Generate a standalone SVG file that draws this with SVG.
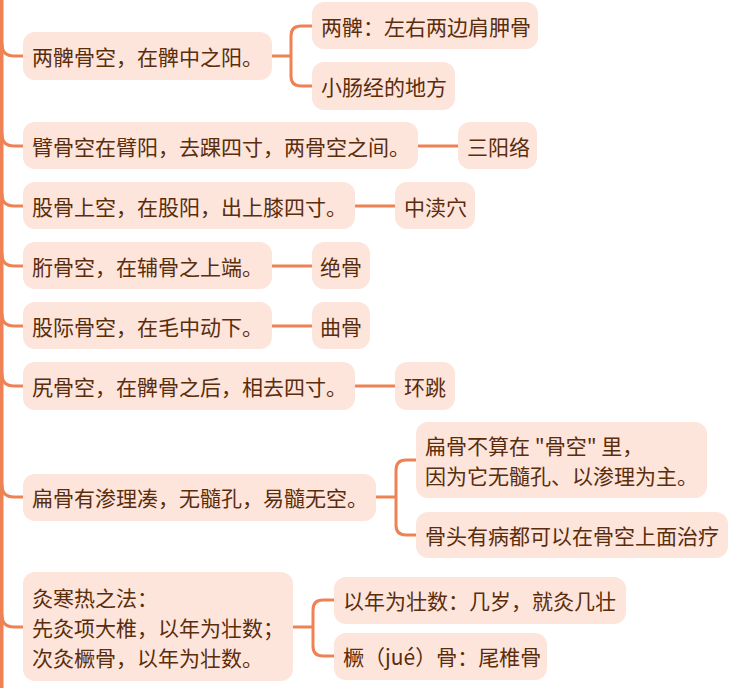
<svg xmlns="http://www.w3.org/2000/svg" width="746" height="688" viewBox="0 0 746 688">
<defs>
<style>
.n{fill:#fde5dc;}
.t{font-family:"Noto Sans CJK SC","Noto Sans",sans-serif;font-size:21px;fill:#5a2d0c;dominant-baseline:central;}
.c{fill:none;stroke:#ef8254;stroke-width:3;stroke-linecap:round;stroke-linejoin:round;}
</style>
</defs>
<rect x="0" y="0" width="746" height="688" fill="#ffffff"/>
<g id="connectors">
<rect x="0" y="0" width="3.5" height="688" fill="#ef8254"/>
<path class="c" d="M2,44 Q2,56 14,56 H23"/>
<path class="c" d="M2,134 Q2,146 14,146 H23"/>
<path class="c" d="M2,194 Q2,206 14,206 H23"/>
<path class="c" d="M2,254 Q2,266 14,266 H23"/>
<path class="c" d="M2,314 Q2,326 14,326 H23"/>
<path class="c" d="M2,374 Q2,386 14,386 H23"/>
<path class="c" d="M2,485 Q2,497 14,497 H23"/>
<path class="c" d="M2,615 Q2,627 14,627 H23"/>
<path class="c" d="M272,56 H291 M312,26 H301 Q291,26 291,36 V76 Q291,86 301,86 H312"/>
<path class="c" d="M418,146 H458"/>
<path class="c" d="M355,206 H395"/>
<path class="c" d="M272,266 H312"/>
<path class="c" d="M272,326 H312"/>
<path class="c" d="M355,386 H395"/>
<path class="c" d="M376,497 H396 M416,460 H406 Q396,460 396,470 V525 Q396,535 406,535 H416"/>
<path class="c" d="M293,627 H313 M334,600 H323 Q313,600 313,610 V646 Q313,656 323,656 H334"/>
</g>
<g id="n1"><rect class="n" x="23" y="32" width="249" height="48" rx="12"/><text class="t" x="32" y="56">两髀骨空，在髀中之阳。</text></g>
<g id="n1a"><rect class="n" x="312" y="2" width="226" height="47" rx="12"/><text class="t" x="321" y="26">两髀：左右两边肩胛骨</text></g>
<g id="n1b"><rect class="n" x="312" y="62" width="143" height="48" rx="12"/><text class="t" x="321" y="86">小肠经的地方</text></g>
<g id="n2"><rect class="n" x="23" y="122" width="395" height="47" rx="12"/><text class="t" x="32" y="146">臂骨空在臂阳，去踝四寸，两骨空之间。</text></g>
<g id="n2a"><rect class="n" x="458" y="122" width="79" height="47" rx="12"/><text class="t" x="467" y="146">三阳络</text></g>
<g id="n3"><rect class="n" x="23" y="182" width="332" height="47" rx="12"/><text class="t" x="32" y="206">股骨上空，在股阳，出上膝四寸。</text></g>
<g id="n3a"><rect class="n" x="395" y="182" width="80" height="47" rx="12"/><text class="t" x="404" y="206">中渎穴</text></g>
<g id="n4"><rect class="n" x="23" y="242" width="249" height="47" rx="12"/><text class="t" x="32" y="266">胻骨空，在辅骨之上端。</text></g>
<g id="n4a"><rect class="n" x="312" y="242" width="58" height="47" rx="12"/><text class="t" x="320" y="266">绝骨</text></g>
<g id="n5"><rect class="n" x="23" y="302" width="249" height="47" rx="12"/><text class="t" x="32" y="326">股际骨空，在毛中动下。</text></g>
<g id="n5a"><rect class="n" x="312" y="302" width="58" height="47" rx="12"/><text class="t" x="320" y="326">曲骨</text></g>
<g id="n6"><rect class="n" x="23" y="362" width="332" height="48" rx="12"/><text class="t" x="32" y="386">尻骨空，在髀骨之后，相去四寸。</text></g>
<g id="n6a"><rect class="n" x="395" y="362" width="60" height="48" rx="12"/><text class="t" x="404" y="386">环跳</text></g>
<g id="n7"><rect class="n" x="23" y="474" width="353" height="47" rx="12"/><text class="t" x="32" y="497">扁骨有渗理凑，无髓孔，易髓无空。</text></g>
<g id="n7a"><rect class="n" x="416" y="422" width="291" height="76" rx="12"/><text class="t" x="425" y="445">扁骨不算在 "骨空" 里，</text><text class="t" x="425" y="475">因为它无髓孔、以渗理为主。</text></g>
<g id="n7b"><rect class="n" x="416" y="512" width="312" height="46" rx="12"/><text class="t" x="425" y="535">骨头有病都可以在骨空上面治疗</text></g>
<g id="n8"><rect class="n" x="23" y="572" width="270" height="109" rx="12"/><text class="t" x="32" y="597">灸寒热之法：</text><text class="t" x="32" y="627">先灸项大椎，以年为壮数；</text><text class="t" x="32" y="657">次灸橛骨，以年为壮数。</text></g>
<g id="n8a"><rect class="n" x="334" y="577" width="292" height="47" rx="12"/><text class="t" x="343" y="600">以年为壮数：几岁，就灸几壮</text></g>
<g id="n8b"><rect class="n" x="334" y="633" width="213" height="47" rx="12"/><text class="t" x="343" y="656">橛（jué）骨：尾椎骨</text></g>
</svg>
